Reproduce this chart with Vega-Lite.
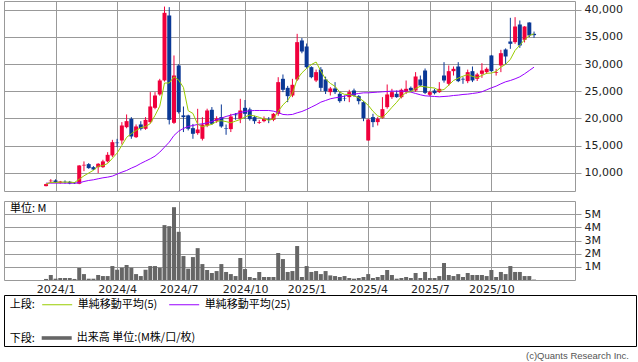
{
"$schema": "https://vega.github.io/schema/vega-lite/v6.json",
"padding": {"left": 3, "top": 0, "right": 0, "bottom": 0},
"background": "white",
"datasets": {"w": [
{"date":"2023-12-18","open":7550,"high":8000,"low":7500,"close":7920,"ma5":7920,"ma25":8100,"volume":0.08},
{"date":"2023-12-25","open":8450,"high":8830,"low":8100,"close":8560,"ma5":8240,"ma25":8100,"volume":0.38},
{"date":"2024-01-01","open":8590,"high":8800,"low":8100,"close":8220,"ma5":8233,"ma25":8100,"volume":0.10},
{"date":"2024-01-08","open":8160,"high":8500,"low":8000,"close":8400,"ma5":8275,"ma25":8100,"volume":0.15},
{"date":"2024-01-15","open":8350,"high":8600,"low":8000,"close":8280,"ma5":8276,"ma25":8100,"volume":0.15},
{"date":"2024-01-22","open":8340,"high":8500,"low":7900,"close":8040,"ma5":8300,"ma25":8100,"volume":0.15},
{"date":"2024-01-29","open":8200,"high":8300,"low":7950,"close":8050,"ma5":8198,"ma25":8100,"volume":0.08},
{"date":"2024-02-05","open":7980,"high":11400,"low":7900,"close":11350,"ma5":8824,"ma25":8160,"volume":0.91},
{"date":"2024-02-12","open":11350,"high":12100,"low":10300,"close":11470,"ma5":9438,"ma25":8400,"volume":0.45},
{"date":"2024-02-19","open":11600,"high":11780,"low":10740,"close":10860,"ma5":9954,"ma25":8590,"volume":0.10},
{"date":"2024-02-26","open":11040,"high":11230,"low":10500,"close":10610,"ma5":10468,"ma25":8710,"volume":0.10},
{"date":"2024-03-04","open":11040,"high":11780,"low":9940,"close":11660,"ma5":11190,"ma25":8900,"volume":0.38},
{"date":"2024-03-11","open":11040,"high":12400,"low":10900,"close":12100,"ma5":11340,"ma25":9080,"volume":0.30},
{"date":"2024-03-18","open":12100,"high":13800,"low":11900,"close":13310,"ma5":11708,"ma25":9200,"volume":0.30},
{"date":"2024-03-25","open":13190,"high":16070,"low":12900,"close":15640,"ma5":12664,"ma25":9390,"volume":1.06},
{"date":"2024-04-01","open":15560,"high":16250,"low":14730,"close":15460,"ma5":13634,"ma25":9760,"volume":0.78},
{"date":"2024-04-08","open":15950,"high":19330,"low":15210,"close":18710,"ma5":15044,"ma25":10120,"volume":0.93},
{"date":"2024-04-15","open":18400,"high":20740,"low":18200,"close":19510,"ma5":16526,"ma25":10430,"volume":1.14},
{"date":"2024-04-22","open":19940,"high":20250,"low":16260,"close":16690,"ma5":17202,"ma25":10860,"volume":0.93},
{"date":"2024-04-29","open":16560,"high":18900,"low":16400,"close":18530,"ma5":17780,"ma25":11230,"volume":0.45},
{"date":"2024-05-06","open":18900,"high":19500,"low":17800,"close":18100,"ma5":18308,"ma25":11720,"volume":0.30},
{"date":"2024-05-13","open":18100,"high":20250,"low":17900,"close":19750,"ma5":18516,"ma25":12150,"volume":0.78},
{"date":"2024-05-20","open":19330,"high":24850,"low":19100,"close":22210,"ma5":19056,"ma25":12580,"volume":1.06},
{"date":"2024-05-27","open":21960,"high":24850,"low":21700,"close":24230,"ma5":20564,"ma25":13070,"volume":1.06},
{"date":"2024-06-03","open":24420,"high":27300,"low":24200,"close":27000,"ma5":22258,"ma25":13800,"volume":0.93},
{"date":"2024-06-10","open":27000,"high":40600,"low":26800,"close":39450,"ma5":26528,"ma25":14720,"volume":4.17},
{"date":"2024-06-17","open":38960,"high":40490,"low":18900,"close":19750,"ma5":26528,"ma25":15640,"volume":4.09},
{"date":"2024-06-24","open":19200,"high":31600,"low":19000,"close":27910,"ma5":27668,"ma25":16870,"volume":5.53},
{"date":"2024-07-01","open":29750,"high":30000,"low":20900,"close":21170,"ma5":27056,"ma25":17670,"volume":3.66},
{"date":"2024-07-08","open":20570,"high":22200,"low":17500,"close":20250,"ma5":25706,"ma25":18160,"volume":1.82},
{"date":"2024-07-15","open":20570,"high":20700,"low":17800,"close":18100,"ma5":21436,"ma25":18530,"volume":0.86},
{"date":"2024-07-22","open":18220,"high":19000,"low":16260,"close":17180,"ma5":20922,"ma25":18710,"volume":1.74},
{"date":"2024-07-29","open":17300,"high":21780,"low":17000,"close":17970,"ma5":18934,"ma25":18900,"volume":2.42},
{"date":"2024-08-05","open":16260,"high":20250,"low":15950,"close":18900,"ma5":18480,"ma25":19020,"volume":1.21},
{"date":"2024-08-12","open":18710,"high":21800,"low":18400,"close":21470,"ma5":18724,"ma25":19200,"volume":0.76},
{"date":"2024-08-19","open":21600,"high":22100,"low":18800,"close":19020,"ma5":18908,"ma25":19450,"volume":0.53},
{"date":"2024-08-26","open":19510,"high":20400,"low":19200,"close":20000,"ma5":19472,"ma25":19750,"volume":0.68},
{"date":"2024-09-02","open":20250,"high":22580,"low":18300,"close":18530,"ma5":19584,"ma25":20060,"volume":1.21},
{"date":"2024-09-09","open":18200,"high":18900,"low":17000,"close":18100,"ma5":19424,"ma25":20370,"volume":0.61},
{"date":"2024-09-16","open":18040,"high":20860,"low":17500,"close":20370,"ma5":19204,"ma25":20610,"volume":0.45},
{"date":"2024-09-23","open":20750,"high":21000,"low":19760,"close":20600,"ma5":19520,"ma25":20860,"volume":0.30},
{"date":"2024-09-30","open":19940,"high":23620,"low":19140,"close":21470,"ma5":19814,"ma25":21100,"volume":1.67},
{"date":"2024-10-07","open":21960,"high":23400,"low":19940,"close":20860,"ma5":20280,"ma25":21290,"volume":0.83},
{"date":"2024-10-14","open":21660,"high":22000,"low":19600,"close":19880,"ma5":20636,"ma25":21410,"volume":0.23},
{"date":"2024-10-21","open":20250,"high":20500,"low":19020,"close":19510,"ma5":20464,"ma25":21470,"volume":0.15},
{"date":"2024-10-28","open":19200,"high":19700,"low":19000,"close":19350,"ma5":20214,"ma25":21470,"volume":0.61},
{"date":"2024-11-04","open":19510,"high":20370,"low":19300,"close":19940,"ma5":19908,"ma25":21470,"volume":0.23},
{"date":"2024-11-11","open":19900,"high":20250,"low":19140,"close":19750,"ma5":19686,"ma25":21470,"volume":0.23},
{"date":"2024-11-18","open":19750,"high":21000,"low":19500,"close":20860,"ma5":19882,"ma25":21350,"volume":0.23},
{"date":"2024-11-25","open":20860,"high":27600,"low":20500,"close":26690,"ma5":21318,"ma25":21100,"volume":2.05},
{"date":"2024-12-02","open":27300,"high":28100,"low":24850,"close":25280,"ma5":22504,"ma25":20740,"volume":1.59},
{"date":"2024-12-09","open":25640,"high":26000,"low":23000,"close":24110,"ma5":23338,"ma25":20680,"volume":0.61},
{"date":"2024-12-16","open":24230,"high":27300,"low":23930,"close":26200,"ma5":24628,"ma25":20740,"volume":0.68},
{"date":"2024-12-23","open":27180,"high":35580,"low":26900,"close":34050,"ma5":27266,"ma25":21040,"volume":2.58},
{"date":"2024-12-30","open":34360,"high":34800,"low":32000,"close":32330,"ma5":28394,"ma25":21290,"volume":0.23},
{"date":"2025-01-06","open":33250,"high":33800,"low":29200,"close":29450,"ma5":29228,"ma25":21660,"volume":1.06},
{"date":"2025-01-13","open":29450,"high":29600,"low":27400,"close":27600,"ma5":29926,"ma25":22090,"volume":0.61},
{"date":"2025-01-20","open":26990,"high":29000,"low":26700,"close":28530,"ma5":30392,"ma25":22520,"volume":0.68},
{"date":"2025-01-27","open":29020,"high":29450,"low":25030,"close":25640,"ma5":28710,"ma25":23010,"volume":0.45},
{"date":"2025-02-03","open":27180,"high":27700,"low":24500,"close":25030,"ma5":27250,"ma25":23310,"volume":0.68},
{"date":"2025-02-10","open":24850,"high":25800,"low":24230,"close":25520,"ma5":26464,"ma25":23620,"volume":0.35},
{"date":"2025-02-17","open":25520,"high":26690,"low":24500,"close":24850,"ma5":25914,"ma25":23800,"volume":0.30},
{"date":"2025-02-24","open":24540,"high":25000,"low":22900,"close":23190,"ma5":24846,"ma25":23930,"volume":0.23},
{"date":"2025-03-03","open":23700,"high":24230,"low":23190,"close":23620,"ma5":24442,"ma25":24110,"volume":0.30},
{"date":"2025-03-10","open":23930,"high":25280,"low":23000,"close":24850,"ma5":24406,"ma25":24360,"volume":0.15},
{"date":"2025-03-17","open":25150,"high":25500,"low":24000,"close":24230,"ma5":24148,"ma25":24480,"volume":0.10},
{"date":"2025-03-24","open":24110,"high":24300,"low":22600,"close":23190,"ma5":23816,"ma25":24600,"volume":0.15},
{"date":"2025-03-31","open":23000,"high":23200,"low":19500,"close":20060,"ma5":23190,"ma25":24720,"volume":0.23},
{"date":"2025-04-07","open":15950,"high":20000,"low":15900,"close":19820,"ma5":22430,"ma25":24720,"volume":0.45},
{"date":"2025-04-14","open":20250,"high":20860,"low":18400,"close":19330,"ma5":21326,"ma25":24790,"volume":0.15},
{"date":"2025-04-21","open":19330,"high":20250,"low":18710,"close":19940,"ma5":20468,"ma25":24850,"volume":0.23},
{"date":"2025-04-28","open":20120,"high":23930,"low":19940,"close":21720,"ma5":20174,"ma25":24910,"volume":0.38},
{"date":"2025-05-05","open":22090,"high":26260,"low":21800,"close":24420,"ma5":21046,"ma25":24970,"volume":0.76},
{"date":"2025-05-12","open":23930,"high":25460,"low":23600,"close":24850,"ma5":22052,"ma25":25030,"volume":0.38},
{"date":"2025-05-19","open":24540,"high":25150,"low":23800,"close":23930,"ma5":22972,"ma25":25030,"volume":0.10},
{"date":"2025-05-26","open":23930,"high":25500,"low":23700,"close":25280,"ma5":24040,"ma25":25030,"volume":0.15},
{"date":"2025-06-02","open":24850,"high":26990,"low":24500,"close":25460,"ma5":24788,"ma25":25030,"volume":0.23},
{"date":"2025-06-09","open":25640,"high":25890,"low":24900,"close":25150,"ma5":24934,"ma25":24850,"volume":0.15},
{"date":"2025-06-16","open":25150,"high":28530,"low":24900,"close":27730,"ma5":25510,"ma25":24600,"volume":0.53},
{"date":"2025-06-23","open":27180,"high":27900,"low":25900,"close":26070,"ma5":25938,"ma25":24360,"volume":0.15},
{"date":"2025-06-30","open":28830,"high":29200,"low":24500,"close":24720,"ma5":25826,"ma25":24170,"volume":0.61},
{"date":"2025-07-07","open":24360,"high":25100,"low":24100,"close":24850,"ma5":25704,"ma25":24110,"volume":0.15},
{"date":"2025-07-14","open":25150,"high":25460,"low":24420,"close":24660,"ma5":25606,"ma25":24050,"volume":0.15},
{"date":"2025-07-21","open":24850,"high":26690,"low":24700,"close":25460,"ma5":25152,"ma25":23990,"volume":0.30},
{"date":"2025-07-28","open":27910,"high":30370,"low":26600,"close":26990,"ma5":25336,"ma25":24050,"volume":1.29},
{"date":"2025-08-04","open":26380,"high":29750,"low":26000,"close":28710,"ma5":26134,"ma25":24110,"volume":0.38},
{"date":"2025-08-11","open":28710,"high":29570,"low":27900,"close":29140,"ma5":26992,"ma25":24230,"volume":0.30},
{"date":"2025-08-18","open":29570,"high":30370,"low":26690,"close":26870,"ma5":27434,"ma25":24300,"volume":0.45},
{"date":"2025-08-25","open":27300,"high":27600,"low":26380,"close":27180,"ma5":27778,"ma25":24420,"volume":0.23},
{"date":"2025-09-01","open":26870,"high":29000,"low":26500,"close":28530,"ma5":28086,"ma25":24480,"volume":0.53},
{"date":"2025-09-08","open":28710,"high":29570,"low":26700,"close":27000,"ma5":27744,"ma25":24600,"volume":0.38},
{"date":"2025-09-15","open":27300,"high":28400,"low":26900,"close":28100,"ma5":27536,"ma25":24720,"volume":0.38},
{"date":"2025-09-22","open":28220,"high":30180,"low":27480,"close":28830,"ma5":27928,"ma25":24910,"volume":0.38},
{"date":"2025-09-29","open":28530,"high":29400,"low":28200,"close":29140,"ma5":28320,"ma25":25280,"volume":0.30},
{"date":"2025-10-06","open":31600,"high":31700,"low":28600,"close":28710,"ma5":28356,"ma25":25640,"volume":0.76},
{"date":"2025-10-13","open":28400,"high":29140,"low":27900,"close":28530,"ma5":28662,"ma25":25950,"volume":0.23},
{"date":"2025-10-20","open":29760,"high":32640,"low":28530,"close":32020,"ma5":29446,"ma25":26380,"volume":0.61},
{"date":"2025-10-27","open":32700,"high":32900,"low":30000,"close":31410,"ma5":29962,"ma25":26750,"volume":0.45},
{"date":"2025-11-03","open":34170,"high":38530,"low":32820,"close":33740,"ma5":30882,"ma25":26990,"volume":1.06},
{"date":"2025-11-10","open":34050,"high":38650,"low":33740,"close":36930,"ma5":32526,"ma25":27300,"volume":0.61},
{"date":"2025-11-17","open":37300,"high":38040,"low":33000,"close":33440,"ma5":33508,"ma25":27670,"volume":0.61},
{"date":"2025-11-24","open":34480,"high":37000,"low":34000,"close":36930,"ma5":34490,"ma25":28220,"volume":0.30},
{"date":"2025-12-01","open":37670,"high":37700,"low":35000,"close":35280,"ma5":35264,"ma25":28830,"volume":0.30},
{"date":"2025-12-08","open":35580,"high":36000,"low":34850,"close":35340,"ma5":35584,"ma25":29450,"volume":0.03}
]},
"vconcat": [
 {"vconcat": [
  {
   "width": 571, "height": 190,
   "data": {"name": "w"},
   "view": {"stroke": "#999999"},
   "encoding": {
    "x": {"field": "date", "type": "temporal", "title": null,
     "scale": {"type": "utc", "domain": [{"year":2023,"month":10,"date":24,"hours":6,"utc":true},{"year":2026,"month":1,"date":30,"hours":3,"utc":true}]},
     "axis": {"values": [{"year":2024,"month":1,"date":1,"utc":true},{"year":2024,"month":4,"date":1,"utc":true},{"year":2024,"month":7,"date":1,"utc":true},{"year":2024,"month":10,"date":7,"utc":true},{"year":2025,"month":1,"date":6,"utc":true},{"year":2025,"month":4,"date":7,"utc":true},{"year":2025,"month":7,"date":7,"utc":true},{"year":2025,"month":10,"date":6,"utc":true}],
      "labels": false, "ticks": false, "domain": false, "grid": true}}
   },
   "layer": [
    {"mark": {"type": "rule", "strokeWidth": 1},
     "encoding": {
      "y": {"field": "low", "type": "quantitative", "title": null,
       "scale": {"domain": [6650, 41625], "nice": false, "zero": false},
       "axis": {"orient": "right", "values": [10000,15000,20000,25000,30000,35000,40000], "labelExpr": "format(datum.value, ',')", "labelOverlap": false, "tickSize": 6, "labelPadding": 3, "domain": false, "grid": true}},
      "y2": {"field": "high"},
      "color": {"condition": {"test": "datum.close >= datum.open", "value": "#f0003c"}, "value": "#0a3896"}
     }},
    {"mark": {"type": "bar", "size": 4},
     "encoding": {
      "y": {"field": "open", "type": "quantitative", "title": null,
       "scale": {"domain": [6650, 41625], "nice": false, "zero": false},
       "axis": {"orient": "right", "values": [10000,15000,20000,25000,30000,35000,40000], "labelExpr": "format(datum.value, ',')", "labelOverlap": false, "tickSize": 6, "labelPadding": 3, "domain": false, "grid": true}},
      "y2": {"field": "close"},
      "color": {"condition": {"test": "datum.close >= datum.open", "value": "#f0003c"}, "value": "#0a3896"}
     }},
    {"mark": {"type": "line", "strokeWidth": 1},
     "encoding": {
      "y": {"field": "ma25", "type": "quantitative", "title": null,
       "scale": {"domain": [6650, 41625], "nice": false, "zero": false},
       "axis": {"orient": "right", "values": [10000,15000,20000,25000,30000,35000,40000], "labelExpr": "format(datum.value, ',')", "labelOverlap": false, "tickSize": 6, "labelPadding": 3, "domain": false, "grid": true}},
      "stroke": {"datum": "単純移動平均(25)",
       "scale": {"domain": ["単純移動平均(5)", "単純移動平均(25)"], "range": ["#99cc00", "#9900ff"]},
       "legend": {"orient": "none", "legendX": 5.7, "legendY": 288, "direction": "horizontal", "title": "上段:", "titleOrient": "left", "titleAnchor": "middle", "titleBaseline": "top", "titlePadding": 6, "symbolType": "stroke", "symbolSize": 900, "symbolStrokeWidth": 1, "labelOffset": 5, "columnPadding": 9}}
     }},
    {"mark": {"type": "line", "strokeWidth": 1},
     "encoding": {
      "y": {"field": "ma5", "type": "quantitative", "title": null,
       "scale": {"domain": [6650, 41625], "nice": false, "zero": false},
       "axis": {"orient": "right", "values": [10000,15000,20000,25000,30000,35000,40000], "labelExpr": "format(datum.value, ',')", "labelOverlap": false, "tickSize": 6, "labelPadding": 3, "domain": false, "grid": true}},
      "stroke": {"datum": "単純移動平均(5)",
       "scale": {"domain": ["単純移動平均(5)", "単純移動平均(25)"], "range": ["#99cc00", "#9900ff"]},
       "legend": {"orient": "none", "legendX": 5.7, "legendY": 288, "direction": "horizontal", "title": "上段:", "titleOrient": "left", "titleAnchor": "middle", "titleBaseline": "top", "titlePadding": 6, "symbolType": "stroke", "symbolSize": 900, "symbolStrokeWidth": 1, "labelOffset": 5, "columnPadding": 9}}
     }}
   ]
  },
  {
   "width": 571, "height": 79,
   "data": {"name": "w"},
   "view": {"stroke": "#999999"},
   "title": {"text": "単位: M", "anchor": "start", "frame": "group", "offset": -13, "dx": 6, "font": "Noto Sans CJK JP", "fontSize": 11, "fontWeight": "normal", "color": "#000000"},
   "mark": {"type": "bar", "size": 4},
   "encoding": {
    "x": {"field": "date", "type": "temporal", "title": null,
     "scale": {"type": "utc", "domain": [{"year":2023,"month":10,"date":24,"hours":6,"utc":true},{"year":2026,"month":1,"date":30,"hours":3,"utc":true}]},
     "axis": {"values": [{"year":2024,"month":1,"date":1,"utc":true},{"year":2024,"month":4,"date":1,"utc":true},{"year":2024,"month":7,"date":1,"utc":true},{"year":2024,"month":10,"date":7,"utc":true},{"year":2025,"month":1,"date":6,"utc":true},{"year":2025,"month":4,"date":7,"utc":true},{"year":2025,"month":7,"date":7,"utc":true},{"year":2025,"month":10,"date":6,"utc":true}],
      "labelExpr": "utcFormat(datum.value, '%Y/%-m')", "ticks": false, "labelPadding": 3, "domain": false, "grid": true, "labelFlush": false}},
    "y": {"field": "volume", "type": "quantitative", "title": null,
     "scale": {"domain": [0, 6], "nice": false},
     "axis": {"orient": "right", "values": [1,2,3,4,5], "labelExpr": "datum.value + 'M'", "labelOverlap": false, "tickSize": 6, "labelPadding": 3, "domain": false, "grid": true}},
    "fill": {"datum": "出来高 単位:(M株/口/枚)",
     "scale": {"domain": ["出来高 単位:(M株/口/枚)"], "range": ["#666666"]},
     "legend": {"orient": "none", "legendX": 5.7, "legendY": 322, "direction": "horizontal", "title": "下段:", "titleOrient": "left", "titleAnchor": "middle", "titleBaseline": "top", "titlePadding": 6, "symbolType": "M-1,-0.12H1V0.12H-1Z", "symbolSize": 900, "symbolStrokeWidth": 0, "labelOffset": 5}}
   }
  }
 ], "spacing": 8},
 {
  "width": 632, "height": 51,
  "data": {"values": []},
  "mark": {"type": "text"},
  "encoding": {},
  "view": {"stroke": "#000000", "strokeWidth": 1},
  "title": {"text": "(c)Quants Research Inc.", "orient": "bottom", "anchor": "end", "offset": 5, "dx": -7, "font": "Liberation Sans", "fontSize": 9.5, "fontWeight": "normal", "color": "#555555"}
 }
],
"spacing": -1,
"config": {
 "font": "DejaVu Sans",
 "view": {"stroke": "#999999"},
 "axis": {"gridColor": "#999999", "gridOpacity": 1, "gridWidth": 1, "labelFont": "DejaVu Sans", "labelFontSize": 11, "labelColor": "#222222", "tickColor": "#999999"},
 "legend": {"titleFont": "Noto Sans CJK JP", "labelFont": "Noto Sans CJK JP", "titleFontSize": 11, "labelFontSize": 11, "titleFontWeight": "normal", "titleColor": "#000000", "labelColor": "#000000", "padding": 0},
 "title": {"fontWeight": "normal"}
}
}
